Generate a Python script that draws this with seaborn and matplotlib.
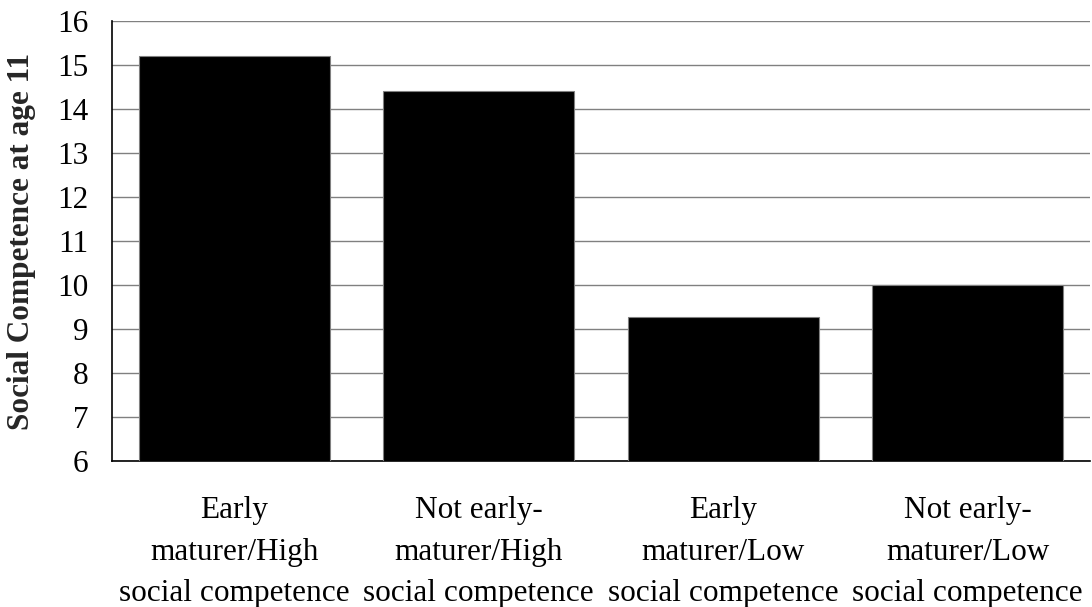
import numpy as np
import pandas as pd
import matplotlib
matplotlib.use("Agg")
import matplotlib.pyplot as plt
import seaborn as sns

# Chart values
groups = [
    "Early\nmaturer/High\nsocial competence",
    "Not early-\nmaturer/High\nsocial competence",
    "Early\nmaturer/Low\nsocial competence",
    "Not early-\nmaturer/Low\nsocial competence",
]
competence = [15.2, 14.4, 9.27, 10.0]
y_ticks = list(range(6, 17))

sns.set_theme(style="white")
plt.rcParams["font.family"] = ["Liberation Serif", "DejaVu Serif"]

df = pd.DataFrame({"group": groups, "competence": competence})

fig = plt.figure(figsize=(10.92, 6.07), dpi=100)
ax = fig.add_axes([112 / 1092, 1 - 461 / 607, (1090 - 112) / 1092, (461 - 21) / 607])

sns.barplot(data=df, x="group", y="competence", color="black", width=0.78,
            edgecolor="#808080", linewidth=0.8, saturation=1, ax=ax, zorder=3)

ax.set_ylim(6, 16)
ax.set_xlim(-0.5, 3.5)
ax.set_yticks(y_ticks)
ax.yaxis.grid(True, color="#808080", linewidth=1.0, zorder=0)
ax.set_axisbelow(True)

# category labels centred under bars, tick marks on the category boundaries
ax.set_xticks(np.arange(len(groups)))
ax.set_xticklabels(groups, fontsize=22.5, linespacing=1.56)
ax.set_xticks(np.arange(len(groups) + 1) - 0.5, minor=True)
ax.tick_params(axis="x", which="major", length=0, pad=25.5)
ax.tick_params(axis="x", which="minor", length=6.5, width=1, color="black", direction="out")
ax.tick_params(axis="y", length=7.2, width=1, color="black", direction="out", labelsize=22.5, pad=10)
ax.tick_params(axis="both", labelcolor="black")

ax.set_xlabel("")
ax.set_ylabel("Social Competence at age 11", fontsize=22.5, fontweight="bold")
ax.yaxis.set_label_coords(-0.078, 0.5)

sns.despine(ax=ax, top=True, right=True)
for side in ["left", "bottom"]:
    ax.spines[side].set_color("black")
    ax.spines[side].set_linewidth(1.2)

fig.savefig("out.png", dpi=100, facecolor="white")
